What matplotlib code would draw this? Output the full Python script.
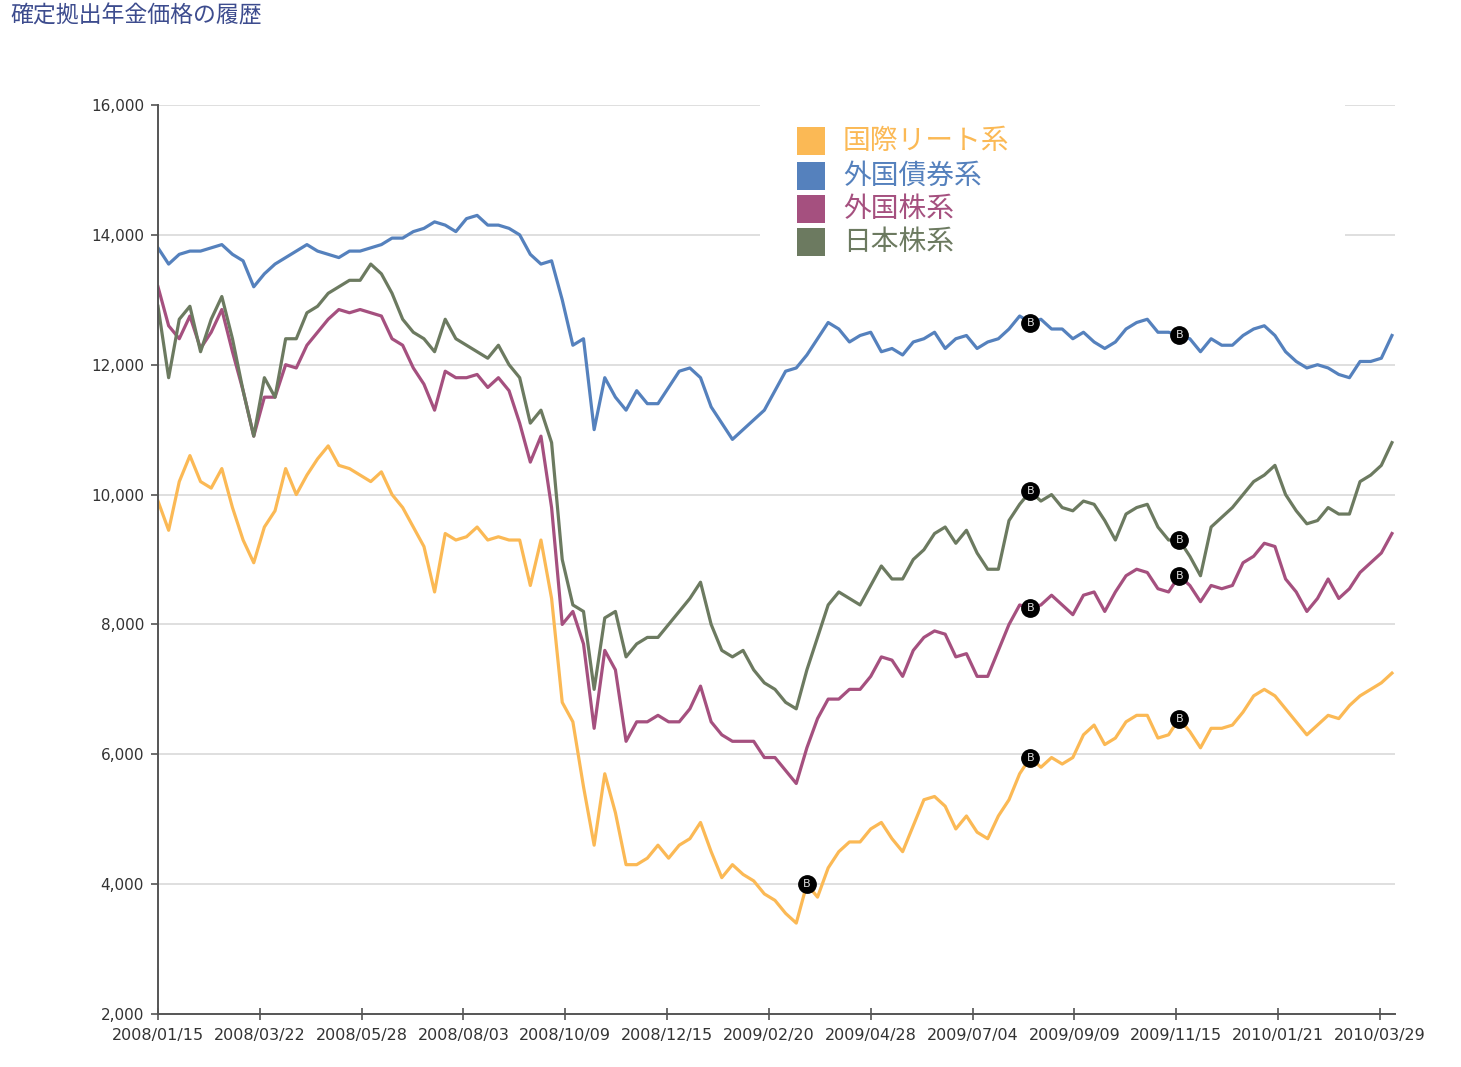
import matplotlib
matplotlib.use("Agg")
import matplotlib.pyplot as plt
import matplotlib.dates as mdates
import matplotlib.patches as mpatches
from matplotlib.ticker import FuncFormatter
import pandas as pd

plt.rcParams['font.family'] = ['Noto Sans CJK JP', 'DejaVu Sans']

# weekly prices, 2008/01/15 .. 2010/04/06
dates = pd.date_range('2008-01-15', periods=117, freq='7D')

reit = [9900, 9450, 10200, 10600, 10200, 10100, 10400, 9800, 9300, 8950,
        9500, 9750, 10400, 10000, 10300, 10550, 10750, 10450, 10400, 10300,
        10200, 10350, 10000, 9800, 9500, 9200, 8500, 9400, 9300, 9350,
        9500, 9300, 9350, 9300, 9300, 8600, 9300, 8400, 6800, 6500,
        5500, 4600, 5700, 5100, 4300, 4300, 4400, 4600, 4400, 4600,
        4700, 4950, 4500, 4100, 4300, 4150, 4050, 3850, 3750, 3550,
        3400, 4000, 3800, 4250, 4500, 4650, 4650, 4850, 4950, 4700,
        4500, 4900, 5300, 5350, 5200, 4850, 5050, 4800, 4700, 5050,
        5300, 5700, 5950, 5800, 5950, 5850, 5950, 6300, 6450, 6150,
        6250, 6500, 6600, 6600, 6250, 6300, 6550, 6350, 6100, 6400,
        6400, 6450, 6650, 6900, 7000, 6900, 6700, 6500, 6300, 6450,
        6600, 6550, 6750, 6900, 7000, 7100, 7250]

bond = [13800, 13550, 13700, 13750, 13750, 13800, 13850, 13700, 13600, 13200,
        13400, 13550, 13650, 13750, 13850, 13750, 13700, 13650, 13750, 13750,
        13800, 13850, 13950, 13950, 14050, 14100, 14200, 14150, 14050, 14250,
        14300, 14150, 14150, 14100, 14000, 13700, 13550, 13600, 13000, 12300,
        12400, 11000, 11800, 11500, 11300, 11600, 11400, 11400, 11650, 11900,
        11950, 11800, 11350, 11100, 10850, 11000, 11150, 11300, 11600, 11900,
        11950, 12150, 12400, 12650, 12550, 12350, 12450, 12500, 12200, 12250,
        12150, 12350, 12400, 12500, 12250, 12400, 12450, 12250, 12350, 12400,
        12550, 12750, 12650, 12700, 12550, 12550, 12400, 12500, 12350, 12250,
        12350, 12550, 12650, 12700, 12500, 12500, 12450, 12400, 12200, 12400,
        12300, 12300, 12450, 12550, 12600, 12450, 12200, 12050, 11950, 12000,
        11950, 11850, 11800, 12050, 12050, 12100, 12450]

foreign_stock = [13200, 12600, 12400, 12750, 12250, 12500, 12850, 12200, 11600, 10900,
                 11500, 11500, 12000, 11950, 12300, 12500, 12700, 12850, 12800, 12850,
                 12800, 12750, 12400, 12300, 11950, 11700, 11300, 11900, 11800, 11800,
                 11850, 11650, 11800, 11600, 11100, 10500, 10900, 9800, 8000, 8200,
                 7700, 6400, 7600, 7300, 6200, 6500, 6500, 6600, 6500, 6500,
                 6700, 7050, 6500, 6300, 6200, 6200, 6200, 5950, 5950, 5750,
                 5550, 6100, 6550, 6850, 6850, 7000, 7000, 7200, 7500, 7450,
                 7200, 7600, 7800, 7900, 7850, 7500, 7550, 7200, 7200, 7600,
                 8000, 8300, 8250, 8300, 8450, 8300, 8150, 8450, 8500, 8200,
                 8500, 8750, 8850, 8800, 8550, 8500, 8750, 8600, 8350, 8600,
                 8550, 8600, 8950, 9050, 9250, 9200, 8700, 8500, 8200, 8400,
                 8700, 8400, 8550, 8800, 8950, 9100, 9400]

japan_stock = [12900, 11800, 12700, 12900, 12200, 12700, 13050, 12400, 11600, 10900,
               11800, 11500, 12400, 12400, 12800, 12900, 13100, 13200, 13300, 13300,
               13550, 13400, 13100, 12700, 12500, 12400, 12200, 12700, 12400, 12300,
               12200, 12100, 12300, 12000, 11800, 11100, 11300, 10800, 9000, 8300,
               8200, 7000, 8100, 8200, 7500, 7700, 7800, 7800, 8000, 8200,
               8400, 8650, 8000, 7600, 7500, 7600, 7300, 7100, 7000, 6800,
               6700, 7300, 7800, 8300, 8500, 8400, 8300, 8600, 8900, 8700,
               8700, 9000, 9150, 9400, 9500, 9250, 9450, 9100, 8850, 8850,
               9600, 9850, 10050, 9900, 10000, 9800, 9750, 9900, 9850, 9600,
               9300, 9700, 9800, 9850, 9500, 9300, 9300, 9050, 8750, 9500,
               9650, 9800, 10000, 10200, 10300, 10450, 10000, 9750, 9550, 9600,
               9800, 9700, 9700, 10200, 10300, 10450, 10800]

series_names = ['国際リート系', '外国債券系', '外国株系', '日本株系']
series_values = [reit, bond, foreign_stock, japan_stock]
series_colors = ['#fbb955', '#5581bd', '#a5507f', '#6c7a60']

# "B" event markers
marker_dates = pd.to_datetime(['2009-03-17', '2009-08-11', '2009-11-17'])
marker_series = [[0], [0, 1, 2, 3], [0, 1, 2, 3]]

tick_dates = pd.date_range('2008-01-15', periods=13, freq='67D')
y_ticks = [2000, 4000, 6000, 8000, 10000, 12000, 14000, 16000]

W, H = 1461, 1067
fig = plt.figure(figsize=(W / 100, H / 100), dpi=100)
ax = fig.add_axes([158 / W, 1 - 1014 / H, (1395 - 158) / W, (1014 - 105) / H])

for y in y_ticks[1:]:
    ax.axhline(y, color='#dcdcdc', lw=1.3, zorder=0)

for name, vals, col in zip(series_names, series_values, series_colors):
    ax.plot(dates, vals, color=col, lw=2.3, zorder=2)

for d, idx in zip(marker_dates, marker_series):
    for k in idx:
        v = pd.Series(series_values[k], index=dates)[d]
        ax.plot(d, v, 'o', ms=12.5, color='black', zorder=4)
        ax.text(d, v, 'B', color='#dddddd', fontsize=8, ha='center', va='center',
                family='DejaVu Sans', zorder=5)

ax.set_xlim(pd.Timestamp('2008-01-15'), pd.Timestamp('2008-01-15') + pd.Timedelta(days=814))
ax.set_ylim(2000, 16000)
ax.set_xticks(tick_dates)
ax.xaxis.set_major_formatter(mdates.DateFormatter('%Y/%m/%d'))
ax.set_yticks(y_ticks)
ax.yaxis.set_major_formatter(FuncFormatter(lambda v, p: f'{int(v):,}'))

for s in ['top', 'right']:
    ax.spines[s].set_visible(False)
for s in ['left', 'bottom']:
    ax.spines[s].set_color('#555555')
    ax.spines[s].set_linewidth(1.4)
ax.tick_params(axis='y', direction='out', length=5, width=1.2, color='#555555',
               labelsize=11, labelcolor='#333333', pad=5)
ax.tick_params(axis='x', direction='inout', length=8, width=1.2, color='#555555',
               labelsize=11.5, labelcolor='#333333', pad=6)
for lab in ax.get_xticklabels() + ax.get_yticklabels():
    lab.set_family('DejaVu Sans')

# legend box
fig.add_artist(mpatches.Rectangle((760 / W, 1 - 265 / H), (1345 - 760) / W, 170 / H,
                                  transform=fig.transFigure, facecolor='white',
                                  edgecolor='none', zorder=1))
row_y = [141, 176, 209, 242]
for name, col, ry in zip(series_names, series_colors, row_y):
    fig.add_artist(mpatches.Rectangle((797 / W, 1 - (ry + 14) / H), 28 / W, 28 / H,
                                      transform=fig.transFigure, facecolor=col,
                                      edgecolor='none', zorder=2))
    fig.text(843 / W, 1 - ry / H, name, color=col, fontsize=20, va='center',
             ha='left', zorder=3)

fig.text(10 / W, 1 - 16 / H, '確定拠出年金価格の履歴', color='#3d4c8e', fontsize=16.5,
         va='center', ha='left')

fig.savefig('out.png', dpi=100)
